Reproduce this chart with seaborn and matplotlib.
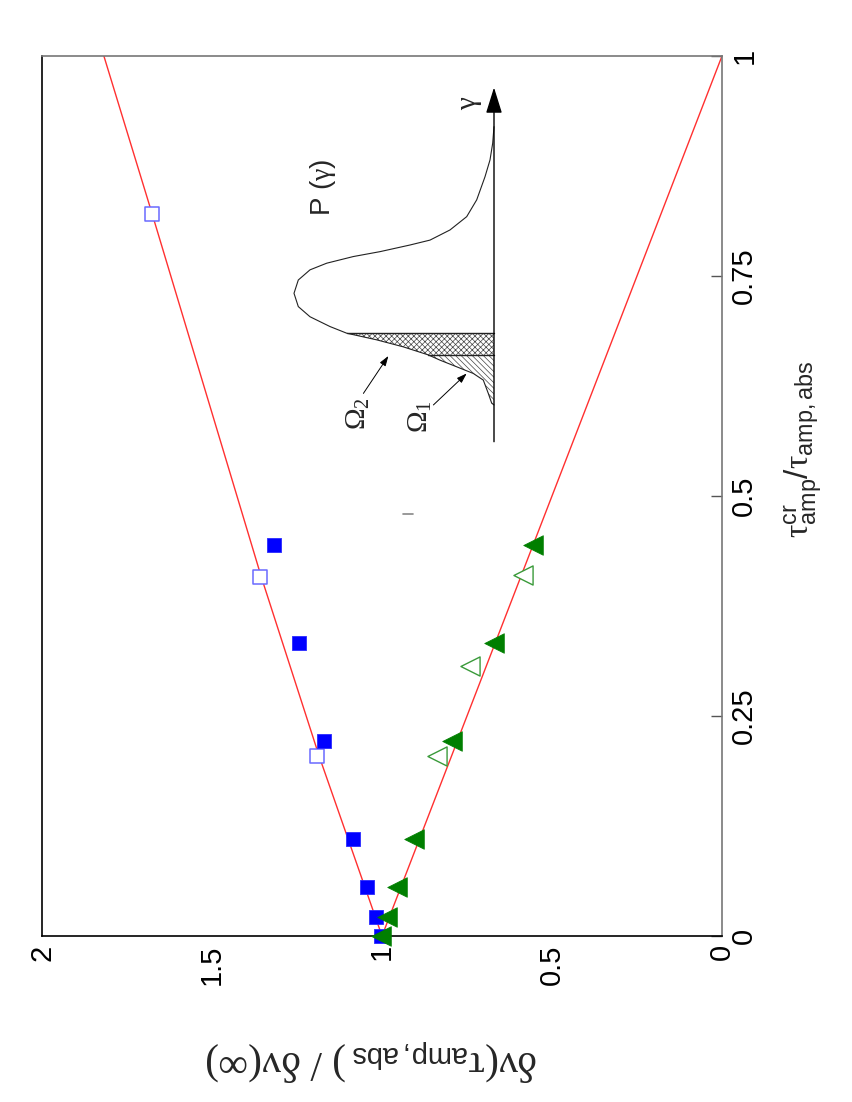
import numpy as np
import seaborn as sns
import matplotlib.pyplot as plt

# main panel (figure is drawn rotated: tau ratio runs up, normalized shift runs right-to-left)
tau_line = [0.0, 0.2045, 0.408, 0.8205, 1.0]
upper_line = [1.0, 1.185, 1.355, 1.676, 1.818]
lower_tau = [0.0, 1.0]
lower_line = [1.0, 0.0]

tau_filled = [0.0, 0.0219, 0.0553, 0.1102, 0.2219, 0.3326, 0.4443]
sq_filled = [1.002, 1.018, 1.043, 1.086, 1.171, 1.245, 1.318]
tri_filled = [1.003, 0.986, 0.955, 0.905, 0.795, 0.670, 0.555]

tau_open_sq = [0.2045, 0.408, 0.8205]
sq_open = [1.192, 1.359, 1.676]
tau_open_tri = [0.2045, 0.307, 0.410]
tri_open = [0.837, 0.741, 0.586]

stray_v = [0.909, 0.938]
stray_tau = [0.4795, 0.4795]

xticks = [0, 0.5, 1, 1.5, 2]
xtick_labels = ['0', '0.5', '1', '1.5', '2']
yticks = [0, 0.25, 0.5, 0.75, 1]
ytick_labels = ['0', '0.25', '0.5', '0.75', '1']

# inset sketch of P(gamma), gamma runs up, P runs to the left
inset_gamma = [0.898, 0.851, 0.803, 0.755, 0.689, 0.641, 0.603, 0.574, 0.560, 0.541,
               0.527, 0.508, 0.489, 0.460, 0.422, 0.384, 0.355, 0.327, 0.308, 0.289,
               0.269, 0.246, 0.231, 0.212, 0.193, 0.174, 0.136, 0.108, 0.103]
inset_p = [0.0, 0.0065, 0.02, 0.045, 0.0865, 0.1365, 0.22, 0.32, 0.42, 0.57,
           0.7035, 0.8365, 0.92, 0.9785, 1.0, 0.9785, 0.92, 0.82, 0.7365, 0.5865,
           0.4535, 0.3285, 0.27, 0.1865, 0.1035, 0.0535, 0.0285, 0.0115, 0.0]
omega2_range = (0.246, 0.308)
omega1_range = (0.103, 0.246)

sns.set_style('white')
plt.rcParams['font.family'] = ['Liberation Sans', 'DejaVu Sans']
plt.rcParams['mathtext.fontset'] = 'custom'
plt.rcParams['mathtext.rm'] = 'Liberation Serif'
plt.rcParams['mathtext.it'] = 'Liberation Serif:italic'
plt.rcParams['mathtext.sf'] = 'Liberation Sans'
plt.rcParams['hatch.linewidth'] = 0.5

fig = plt.figure(figsize=(8.52, 11.02), dpi=100)
ax = fig.add_axes([42 / 852, (1102 - 936) / 1102, 680 / 852, 880 / 1102])

line_kw = dict(sort=False, estimator=None, ax=ax)
sns.lineplot(x=upper_line, y=tau_line, color='#ff3030', lw=1, **line_kw)
sns.lineplot(x=lower_line, y=lower_tau, color='#ff3030', lw=1, **line_kw)
sns.lineplot(x=stray_v, y=stray_tau, color='#888888', lw=1.2, **line_kw)

sns.scatterplot(x=sq_open, y=tau_open_sq, marker='s', s=95, color='white',
                edgecolor='#6a6aff', linewidth=1.1, ax=ax, zorder=3, clip_on=False)
sns.scatterplot(x=sq_filled, y=tau_filled, marker='s', s=100, color='#0000ff',
                edgecolor='#2a2aff', linewidth=0.6, ax=ax, zorder=3, clip_on=False)
sns.scatterplot(x=tri_open, y=tau_open_tri, marker='<', s=190, color='white',
                edgecolor='#3a9a3a', linewidth=1.0, ax=ax, zorder=4, clip_on=False)
sns.scatterplot(x=tri_filled, y=tau_filled, marker='<', s=200, color='#007f00',
                edgecolor='#007f00', linewidth=0.5, ax=ax, zorder=4, clip_on=False)

ax.set_xlim(2, 0)
ax.set_ylim(0, 1)
ax.set_xticks(xticks, xtick_labels, rotation=90)
ax.yaxis.tick_right()
ax.set_yticks(yticks, ytick_labels, rotation=90, va='center')
ax.tick_params(direction='in', length=8, width=1, labelsize=21, pad=6,
               colors='#555555', labelcolor='black')

for side in ['left', 'bottom']:
    ax.spines[side].set_color('black')
    ax.spines[side].set_linewidth(1.2)
for side in ['top', 'right']:
    ax.spines[side].set_color('#777777')
    ax.spines[side].set_linewidth(1.2)

ax.set_xlabel(r'$\mathrm{\delta\nu(\tau_{\mathsf{amp,abs}}\,)\ /\ \delta\nu(\infty)}$',
              fontsize=30, rotation=180, ha='center', va='center')
ax.xaxis.set_label_coords(0.485, -0.141)
ax.yaxis.set_label_position('right')
ax.set_ylabel(r'$\mathrm{\tau}^{\mathsf{cr}}_{\mathsf{amp}}\mathsf{/}\mathrm{\tau}_{\mathsf{amp,abs}}$',
              fontsize=24, rotation=90, ha='center', va='center')
ax.yaxis.set_label_coords(1.12, 0.553)

# inset
ax_in = fig.add_axes([274 / 852, (1102 - 448) / 1102, 240 / 852, (448 - 73.5) / 1102])
ax_in.set_xlim(1.1, -0.1)
ax_in.set_ylim(-0.02, 1.05)
ax_in.axis('off')

sns.lineplot(x=inset_p, y=inset_gamma, sort=False, estimator=None,
             color='#222222', lw=0.8, ax=ax_in)

g = np.array(inset_gamma)
p = np.array(inset_p)
m2 = (g >= omega2_range[0]) & (g <= omega2_range[1])
m1 = (g >= omega1_range[0]) & (g <= omega1_range[1])
ax_in.fill_betweenx(g[m2], 0, p[m2], facecolor='none', edgecolor='#444444',
                    hatch='xxxxxx', linewidth=0)
ax_in.fill_betweenx(g[m1], 0, p[m1], facecolor='none', edgecolor='#444444',
                    hatch='\\\\\\\\\\\\', linewidth=0)
for lvl in [omega2_range[1], omega2_range[0]]:
    ax_in.plot([0, np.interp(lvl, g[::-1], p[::-1])], [lvl, lvl], color='#222222', lw=1)

ax_in.annotate('', xy=(0, 1.01), xytext=(0, -0.002),
               arrowprops=dict(arrowstyle='-|>,head_length=0.8,head_width=0.25',
                               color='black', lw=1, shrinkA=0, shrinkB=0,
                               mutation_scale=20))
ax_in.text(0.855, 0.726, r'P ($\mathrm{\gamma}$)', rotation=90,
           ha='center', va='center', fontsize=20)
ax_in.text(0.12, 0.966, r'$\mathrm{\gamma}$', rotation=90, ha='center', va='center',
           fontsize=21)
ax_in.text(0.6825, 0.079, r'$\Omega_2$', rotation=90, ha='center', va='center',
           fontsize=21)
ax_in.text(0.3675, 0.07, r'$\Omega_1$', rotation=90, ha='center', va='center',
           fontsize=21)
arrow_kw = dict(arrowstyle='-|>,head_length=0.6,head_width=0.2', color='black',
                lw=0.7, shrinkA=0, shrinkB=0, mutation_scale=10)
ax_in.annotate('', xy=(0.528, 0.243), xytext=(0.653, 0.136), arrowprops=arrow_kw)
ax_in.annotate('', xy=(0.1365, 0.193), xytext=(0.303, 0.103), arrowprops=arrow_kw)

fig.savefig('out.png', dpi=100)
